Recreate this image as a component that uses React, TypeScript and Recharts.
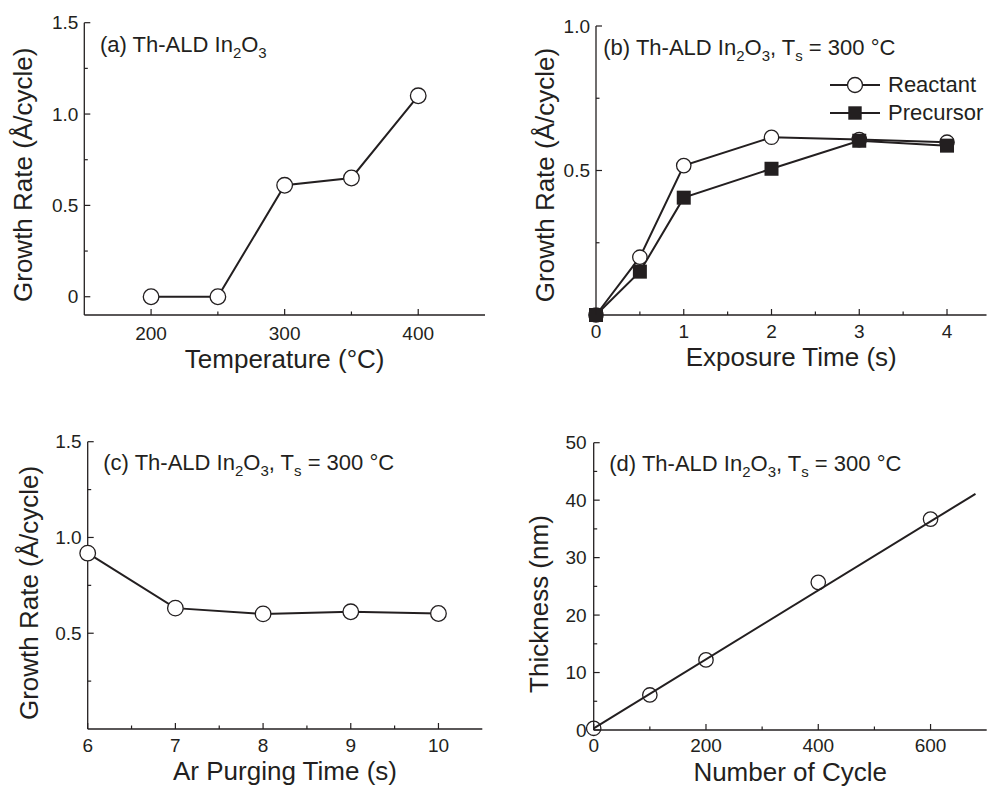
import {
  LineChart,
  ComposedChart,
  Line,
  Scatter,
  XAxis,
  YAxis,
  Legend,
  Customized,
} from "recharts";

const TEXT = "#231F20";
const FONT = "'Liberation Sans', Arial, Helvetica, sans-serif";
const AXIS = { stroke: TEXT, strokeWidth: 1.3 };
const TITLE = { fill: TEXT, fontSize: 26, fontFamily: FONT };

// (a) growth rate vs temperature
const temperatures = [200, 250, 300, 350, 400];
const rateVsTemp = [0, 0, 0.61, 0.65, 1.1];

// (b) growth rate vs exposure time
const exposureTimes = [0, 0.5, 1, 2, 3, 4];
const reactantRates = [0, 0.2, 0.517, 0.615, 0.607, 0.598];
const precursorRates = [0, 0.15, 0.406, 0.506, 0.603, 0.586];
const seriesNames = ["Reactant", "Precursor"];

// (c) growth rate vs Ar purge time
const purgeTimes = [6, 7, 8, 9, 10];
const rateVsPurge = [0.918, 0.631, 0.601, 0.612, 0.603];

// (d) thickness vs cycles + linear fit
const cycles = [0, 100, 200, 400, 600];
const thickness = [0.3, 6.1, 12.2, 25.7, 36.7];
const fitCycles = [0, 680];
const fitThickness = [0.3, 41.1];

// tick lists (major = labelled)
const aXTicks = [200, 250, 300, 350, 400];
const aXMajor = [200, 300, 400];
const aYTicks = [0, 0.25, 0.5, 0.75, 1, 1.25, 1.5];
const aYMajor = [0, 0.5, 1, 1.5];

const bXTicks = [0, 0.5, 1, 1.5, 2, 2.5, 3, 3.5, 4];
const bXMajor = [0, 1, 2, 3, 4];
const bYTicks = [0.25, 0.5, 0.75, 1];
const bYMajor = [0.5, 1];

const cXTicks = [6, 6.5, 7, 7.5, 8, 8.5, 9, 9.5, 10];
const cXMajor = [6, 7, 8, 9, 10];
const cYTicks = [0.25, 0.5, 0.75, 1, 1.25, 1.5];
const cYMajor = [0.5, 1, 1.5];

const dXTicks = [0, 100, 200, 300, 400, 500, 600];
const dXMajor = [0, 200, 400, 600];
const dYTicks = [0, 5, 10, 15, 20, 25, 30, 35, 40, 45, 50];
const dYMajor = [0, 10, 20, 30, 40, 50];

const tempData = temperatures.map((t, i) => ({ t, rate: rateVsTemp[i] }));
const exposureData = exposureTimes.map((t, i) => ({
  t,
  reactant: reactantRates[i],
  precursor: precursorRates[i],
}));
const purgeData = purgeTimes.map((t, i) => ({ t, rate: rateVsPurge[i] }));
const cycleData = cycles.map((n, i) => ({ n, d: thickness[i] }));
const fitData = fitCycles.map((n, i) => ({ n, d: fitThickness[i] }));

const fmtInt = (v: number) => String(v);
const fmtRate = (v: number) => (v === 0 ? "0" : v.toFixed(1));

type Side = "bottom" | "left" | "top" | "right";

// inward ticks, minor ones shorter; labels only on majors
function makeTick(
  side: Side,
  majors: number[],
  gap: number,
  fmt?: (v: number) => string
) {
  return (props: any) => {
    const { x, y, payload } = props;
    const v = payload.value;
    const major = majors.includes(v);
    const len = major ? 6 : 3.5;
    let x1 = x, x2 = x, y1 = y, y2 = y;
    let label = null;
    const textProps = { fill: TEXT, fontSize: 19, fontFamily: FONT };
    if (side === "bottom") {
      y1 = y - gap;
      y2 = y1 - len;
      if (fmt && major)
        label = (
          <text x={x} y={y} dy="0.71em" textAnchor="middle" {...textProps}>
            {fmt(v)}
          </text>
        );
    } else if (side === "left") {
      x1 = x + gap;
      x2 = x1 + len;
      if (fmt && major)
        label = (
          <text x={x} y={y} dy="0.355em" textAnchor="end" {...textProps}>
            {fmt(v)}
          </text>
        );
    } else if (side === "top") {
      y2 = y + len;
    } else {
      x2 = x - len;
    }
    return (
      <g>
        <line x1={x1} y1={y1} x2={x2} y2={y2} stroke={TEXT} strokeWidth={1.2} />
        {label}
      </g>
    );
  };
}

function mirrorAxes(
  xDomain: number[],
  xTicks: number[],
  xMajor: number[],
  yDomain: number[],
  yTicks: number[],
  yMajor: number[]
) {
  return [
    <XAxis
      key="top"
      xAxisId="top"
      orientation="top"
      type="number"
      height={0}
      domain={xDomain}
      allowDataOverflow
      ticks={xTicks}
      interval={0}
      tickSize={0}
      tickMargin={0}
      tickLine={false}
      axisLine={AXIS}
      tick={makeTick("top", xMajor, 0)}
    />,
    <YAxis
      key="right"
      yAxisId="right"
      orientation="right"
      type="number"
      width={0}
      domain={yDomain}
      allowDataOverflow
      ticks={yTicks}
      interval={0}
      tickSize={0}
      tickMargin={0}
      tickLine={false}
      axisLine={AXIS}
      tick={makeTick("right", yMajor, 0)}
    />,
  ];
}

function PanelLabel({
  x,
  y,
  tag,
  withTemp,
}: {
  x: number;
  y: number;
  tag: string;
  withTemp?: boolean;
}) {
  return (
    <text x={x} y={y} fill={TEXT} fontSize={22} fontFamily={FONT}>
      <tspan>{tag} Th-ALD In</tspan>
      <tspan dy={6} fontSize={15}>2</tspan>
      <tspan dy={-6}>O</tspan>
      <tspan dy={6} fontSize={15}>3</tspan>
      {withTemp && <tspan dy={-6}>, T</tspan>}
      {withTemp && <tspan dy={6} fontSize={15}>s</tspan>}
      {withTemp && <tspan dy={-6}> = 300 °C</tspan>}
    </text>
  );
}

function ExposureLegend() {
  return (
    <div style={{ fontFamily: FONT, fontSize: 22, color: TEXT }}>
      {seriesNames.map((name, i) => (
        <div
          key={name}
          style={{ display: "flex", alignItems: "center", height: 28 }}
        >
          <svg width={52} height={20}>
            <line x1={0} x2={50} y1={10} y2={10} stroke={TEXT} strokeWidth={2} />
            {i === 0 ? (
              <circle cx={25} cy={10} r={7.5} fill="#fff" stroke={TEXT} strokeWidth={1.3} />
            ) : (
              <rect x={18.3} y={3.3} width={13.4} height={13.4} fill={TEXT} />
            )}
          </svg>
          <span style={{ marginLeft: 6, lineHeight: "28px" }}>{name}</span>
        </div>
      ))}
    </div>
  );
}

const openDot = (r: number) => ({
  r,
  fill: "#fff",
  stroke: TEXT,
  strokeWidth: 1.3,
});

export default function App() {
  return (
    <div
      style={{
        position: "absolute",
        left: 0,
        top: 0,
        width: 987,
        height: 787,
        background: "#fff",
        overflow: "hidden",
      }}
    >
      {/* (a) */}
      <div style={{ position: "absolute", left: 0, top: 0 }}>
        <LineChart
          width={495}
          height={395}
          data={tempData}
          margin={{ top: 22.7, right: 10, bottom: 45, left: 34.3 }}
        >
          <XAxis
            dataKey="t"
            type="number"
            domain={[150, 450]}
            ticks={aXTicks}
            interval={0}
            height={35}
            tickSize={0}
            tickMargin={11.5}
            tickLine={false}
            axisLine={AXIS}
            tick={makeTick("bottom", aXMajor, 11.5, fmtInt)}
            label={{ value: "Temperature (°C)", position: "bottom", offset: 0, ...TITLE }}
          />
          <YAxis
            type="number"
            domain={[-0.1, 1.5]}
            ticks={aYTicks}
            interval={0}
            width={50}
            tickSize={0}
            tickMargin={6}
            tickLine={false}
            axisLine={AXIS}
            tick={makeTick("left", aYMajor, 6, fmtRate)}
            label={{
              value: "Growth Rate (Å/cycle)",
              angle: -90,
              position: "center",
              dx: -36.3,
              dy: 6,
              textAnchor: "middle",
              ...TITLE,
            }}
          />
          {mirrorAxes([150, 450], aXTicks, aXMajor, [-0.1, 1.5], aYTicks, aYMajor)}
          <Line
            dataKey="rate"
            type="linear"
            stroke={TEXT}
            strokeWidth={2}
            dot={openDot(7.8)}
            isAnimationActive={false}
          />
          <Customized component={<PanelLabel x={100} y={51.5} tag="(a)" />} />
        </LineChart>
      </div>

      {/* (b) */}
      <div style={{ position: "absolute", left: 490, top: 0 }}>
        <LineChart
          width={497}
          height={395}
          data={exposureData}
          margin={{ top: 26, right: 0.5, bottom: 47, left: 56 }}
        >
          <XAxis
            dataKey="t"
            type="number"
            domain={[0, 4.45]}
            ticks={bXTicks}
            interval={0}
            height={33}
            tickSize={0}
            tickMargin={10}
            tickLine={false}
            axisLine={AXIS}
            tick={makeTick("bottom", bXMajor, 10, fmtInt)}
            label={{ value: "Exposure Time (s)", position: "bottom", offset: 0, ...TITLE }}
          />
          <YAxis
            type="number"
            domain={[0, 1]}
            ticks={bYTicks}
            interval={0}
            width={50}
            tickSize={0}
            tickMargin={6}
            tickLine={false}
            axisLine={AXIS}
            tick={makeTick("left", bYMajor, 6, fmtRate)}
            label={{
              value: "Growth Rate (Å/cycle)",
              angle: -90,
              position: "center",
              dx: -26,
              dy: 4.5,
              textAnchor: "middle",
              ...TITLE,
            }}
          />
          {mirrorAxes([0, 4.45], bXTicks, bXMajor, [0, 1], bYTicks, bYMajor)}
          <Line
            name={seriesNames[0]}
            dataKey="reactant"
            type="linear"
            stroke={TEXT}
            strokeWidth={2}
            dot={openDot(7.2)}
            isAnimationActive={false}
          />
          <Line
            name={seriesNames[1]}
            dataKey="precursor"
            type="linear"
            stroke={TEXT}
            strokeWidth={2}
            dot={(p: any) => (
              <rect
                key={`sq-${p.index}`}
                x={p.cx - 7}
                y={p.cy - 7}
                width={14}
                height={14}
                fill={TEXT}
              />
            )}
            isAnimationActive={false}
          />
          <Legend
            layout="vertical"
            align="center"
            verticalAlign="middle"
            wrapperStyle={{ left: 340, top: 71, width: "auto" }}
            content={() => <ExposureLegend />}
          />
          <Customized
            component={<PanelLabel x={113.3} y={55} tag="(b)" withTemp />}
          />
        </LineChart>
      </div>

      {/* (c) */}
      <div style={{ position: "absolute", left: 0, top: 400 }}>
        <LineChart
          width={495}
          height={387}
          data={purgeData}
          margin={{ top: 41.7, right: 12.7, bottom: 25.7, left: 37.7 }}
        >
          <XAxis
            dataKey="t"
            type="number"
            domain={[6, 10.5]}
            ticks={cXTicks}
            interval={0}
            height={32.3}
            tickSize={0}
            tickMargin={9.3}
            tickLine={false}
            axisLine={AXIS}
            tick={makeTick("bottom", cXMajor, 9.3, fmtInt)}
            label={{ value: "Ar Purging Time (s)", position: "bottom", offset: 0, ...TITLE }}
          />
          <YAxis
            type="number"
            domain={[0, 1.5]}
            ticks={cYTicks}
            interval={0}
            width={50}
            tickSize={0}
            tickMargin={6}
            tickLine={false}
            axisLine={AXIS}
            tick={makeTick("left", cYMajor, 6, fmtRate)}
            label={{
              value: "Growth Rate (Å/cycle)",
              angle: -90,
              position: "center",
              dx: -34.4,
              dy: 7.6,
              textAnchor: "middle",
              ...TITLE,
            }}
          />
          {mirrorAxes([6, 10.5], cXTicks, cXMajor, [0, 1.5], cYTicks, cYMajor)}
          <Line
            dataKey="rate"
            type="linear"
            stroke={TEXT}
            strokeWidth={2}
            dot={openDot(7.8)}
            isAnimationActive={false}
          />
          <Customized
            component={<PanelLabel x={103.3} y={70} tag="(c)" withTemp />}
          />
        </LineChart>
      </div>

      {/* (d) */}
      <div style={{ position: "absolute", left: 490, top: 400 }}>
        <ComposedChart
          width={497}
          height={387}
          margin={{ top: 42.7, right: 0.3, bottom: 24, left: 53.7 }}
        >
          <XAxis
            dataKey="n"
            type="number"
            domain={[0, 700]}
            ticks={dXTicks}
            interval={0}
            height={33}
            tickSize={0}
            tickMargin={9}
            tickLine={false}
            axisLine={AXIS}
            tick={makeTick("bottom", dXMajor, 9, fmtInt)}
            label={{ value: "Number of Cycle", position: "bottom", offset: 0, ...TITLE }}
          />
          <YAxis
            dataKey="d"
            type="number"
            domain={[0, 50]}
            ticks={dYTicks}
            interval={0}
            width={50}
            tickSize={0}
            tickMargin={7}
            tickLine={false}
            axisLine={AXIS}
            tick={makeTick("left", dYMajor, 7, fmtInt)}
            label={{
              value: "Thickness (nm)",
              angle: -90,
              position: "center",
              dx: -30.4,
              dy: 17.7,
              textAnchor: "middle",
              ...TITLE,
            }}
          />
          {mirrorAxes([0, 700], dXTicks, dXMajor, [0, 50], dYTicks, dYMajor)}
          <Scatter
            data={cycleData}
            dataKey="d"
            isAnimationActive={false}
            shape={(p: any) => (
              <circle
                cx={p.cx}
                cy={p.cy}
                r={7.2}
                fill="none"
                stroke={TEXT}
                strokeWidth={1.3}
              />
            )}
          />
          <Line
            data={fitData}
            dataKey="d"
            type="linear"
            stroke={TEXT}
            strokeWidth={2}
            dot={false}
            isAnimationActive={false}
          />
          <Customized
            component={<PanelLabel x={119.3} y={71} tag="(d)" withTemp />}
          />
        </ComposedChart>
      </div>
    </div>
  );
}
